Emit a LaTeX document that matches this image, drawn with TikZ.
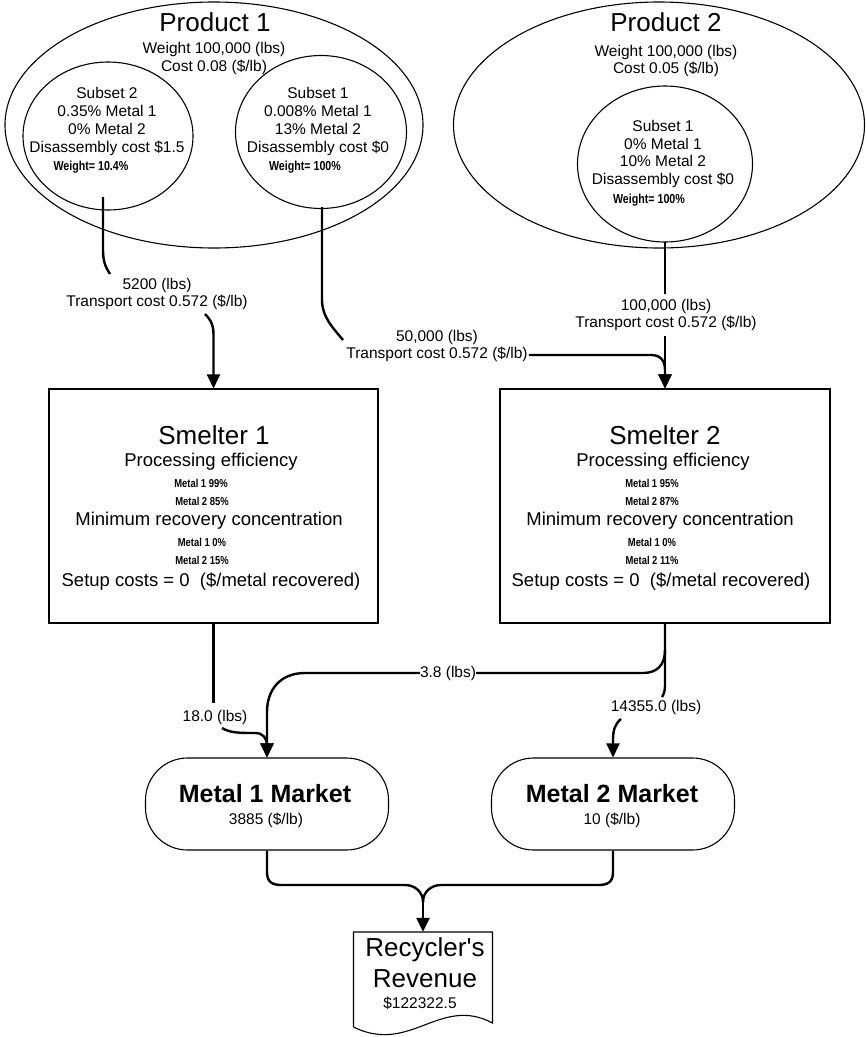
\documentclass[tikz,border=0pt]{standalone}
\usepackage{fontspec}
\setmainfont{Liberation Sans}
\newfontfamily\condfont[FakeStretch=0.82]{Liberation Sans}
\usetikzlibrary{shapes.geometric,arrows.meta}
\begin{document}
\begin{tikzpicture}[x=1pt,y=-1pt,
  oval/.style={ellipse, draw=black, line width=1.1pt, inner sep=0pt},
  boxshape/.style={rectangle, draw=black, line width=1.1pt, inner sep=0pt},
  market/.style={rectangle, draw=black, line width=1.1pt, rounded corners=42pt, inner sep=0pt, minimum width=243pt, minimum height=92pt},
  conn/.style={line width=2.4pt},
  arr/.style={-{Triangle[length=14pt,width=13pt]}},
  txt/.style={font=\fontsize{15.5}{17.8}\selectfont, align=center, inner sep=0pt},
  ttl/.style={font=\fontsize{26}{31}\selectfont, align=center, inner sep=0pt},
  mttl/.style={font=\bfseries\fontsize{25}{30}\selectfont, inner sep=0pt},
  body/.style={font=\fontsize{18.5}{21}\selectfont, inner sep=0pt},
  tinyb/.style={font=\condfont\bfseries\fontsize{11.5}{13}\selectfont, inner sep=0pt},
  wt/.style={font=\condfont\bfseries\fontsize{13}{15}\selectfont, inner sep=0pt},
]
\fill[white] (0,0) rectangle (866,1037);
\useasboundingbox (0,0) rectangle (866,1037);

% Product 1
\node[oval, minimum width=418pt, minimum height=246pt] (p1) at (214,125) {};
\node[oval, minimum width=170pt, minimum height=148pt] (p1s2) at (108,136) {};
\node[oval, minimum width=171pt, minimum height=153pt] (p1s1) at (321,132) {};
\node[ttl] (p1t) at (215,22) {Product 1};
\node[txt] (p1w) at (214,58.5) {Weight 100,000 (lbs)\\Cost 0.08 (\$/lb)};
\node[txt] (p1s2t) at (107,121.5) {Subset 2\\0.35\% Metal 1\\0\% Metal 2\\Disassembly cost \$1.5};
\node[wt] (p1s2w) at (91,167) {Weight= 10.4\%};
\node[txt] (p1s1t) at (318,121.5) {Subset 1\\0.008\% Metal 1\\13\% Metal 2\\Disassembly cost \$0};
\node[wt] (p1s1w) at (305,167) {Weight= 100\%};

% Product 2
\node[oval, minimum width=411pt, minimum height=246pt] (p2) at (659,125) {};
\node[oval, minimum width=175pt, minimum height=156pt] (p2s1) at (665,164) {};
\node[ttl] (p2t) at (666,22) {Product 2};
\node[txt] (p2w) at (666,61) {Weight 100,000 (lbs)\\Cost 0.05 (\$/lb)};
\node[txt] (p2s1t) at (663,154) {Subset 1\\0\% Metal 1\\10\% Metal 2\\Disassembly cost \$0};
\node[wt] (p2s1w) at (649,200) {Weight= 100\%};

% Smelters
\node[boxshape, minimum width=329pt, minimum height=234pt] (sm1) at (213.5,506) {};
\node[ttl] (sm1t) at (214,435) {Smelter 1};
\node[body] (sm1p) at (211,462) {Processing efficiency};
\node[tinyb] (sm1a) at (201,483) {Metal 1 99\%};
\node[tinyb] (sm1b) at (202,501) {Metal 2 85\%};
\node[body] (sm1m) at (209,521) {Minimum recovery concentration};
\node[tinyb] (sm1c) at (202,542) {Metal 1 0\%};
\node[tinyb] (sm1d) at (202,560) {Metal 2 15\%};
\node[body] (sm1s) at (211,582) {Setup costs = 0\ \ (\$/metal recovered)};

\node[boxshape, minimum width=330pt, minimum height=234pt] (sm2) at (665,506) {};
\node[ttl] (sm2t) at (665,435) {Smelter 2};
\node[body] (sm2p) at (663,462) {Processing efficiency};
\node[tinyb] (sm2a) at (652,483) {Metal 1 95\%};
\node[tinyb] (sm2b) at (652,501) {Metal 2 87\%};
\node[body] (sm2m) at (660,521) {Minimum recovery concentration};
\node[tinyb] (sm2c) at (652,542) {Metal 1 0\%};
\node[tinyb] (sm2d) at (652,560) {Metal 2 11\%};
\node[body] (sm2s) at (661,582) {Setup costs = 0\ \ (\$/metal recovered)};

% Markets
\node[market] (m1) at (267,804) {};
\node[mttl] (m1t) at (265,794) {Metal 1 Market};
\node[txt] (m1p) at (266,820) {3885 (\$/lb)};
\node[market] (m2) at (613,804) {};
\node[mttl] (m2t) at (612,794) {Metal 2 Market};
\node[txt] (m2p) at (612,820) {10 (\$/lb)};

% Revenue document
\node[rectangle, inner sep=0pt, minimum width=139pt, minimum height=96pt] (rev) at (423,980) {};
\draw[line width=1.1pt] (353.5,1027) -- (353.5,932) -- (492.5,932) -- (492.5,1023)
  .. controls (440,995) and (410,1055) .. (353.5,1027);
\node[ttl] (revt) at (425,962.5) {Recycler\textquotesingle s\\Revenue};
\node[txt] (revv) at (420,1003) {\$122322.5};

% Flow labels
\node[txt] (l1) at (157,294) {5200 (lbs)\\Transport cost 0.572 (\$/lb)};
\node[txt] (l2) at (437,346) {50,000 (lbs)\\Transport cost 0.572 (\$/lb)};
\node[txt] (l3) at (666,315) {100,000 (lbs)\\Transport cost 0.572 (\$/lb)};
\node[txt] (l4) at (215,717) {18.0 (lbs)};
\node[txt] (l5) at (448,673) {3.8 (lbs)};
\node[txt] (l6) at (656,707) {14355.0 (lbs)};

% named connector ends
\coordinate (a1) at (103,197);
\coordinate (a2) at (110,274);
\coordinate (a3) at (205,314);
\coordinate (b1) at (322,207);
\coordinate (b2) at (343,340);
\coordinate (b3) at (l2.east |- 0,355);
\coordinate (c1) at (665,242);
\coordinate (c2) at (665,294);
\coordinate (c3) at (665,336);
\coordinate (d1) at (213.5,703);
\coordinate (d2) at (222,728);
\coordinate (e1) at (665,650);
\coordinate (f1) at (662,697);
\coordinate (f2) at (621,719);
\coordinate (g1) at (423,902);

% Connectors
\draw[conn] (a1) -- (103,250) .. controls (103,262) and (106,268) .. (a2);
\draw[conn,arr] (a3) .. controls (209,318) and (213.5,323) .. (213.5,334) -- (sm1.north);

\draw[conn] (b1) -- (322,300) .. controls (322,318) and (335,330) .. (b2);
\draw[conn,arr] ([xshift=1pt]b3) -- (651,355) .. controls (660,355) and (665,360) .. (665,370) -- (sm2.north);

\draw[conn] (c1) -- (c2);
\draw[conn,arr] (c3) -- (sm2.north);

\draw[conn] (sm1.south) -- (d1);
\draw[conn,arr] (d2) .. controls (230,733) and (240,733) .. (255,733) .. controls (263,733) and (267,738) .. (267,746) -- (m1.north);

\draw[conn] (e1) .. controls (665,665) and (657,673) .. (643,673) -- (l5.east);
\draw[conn,arr] (l5.west) -- (305,673) .. controls (280,673) and (267,690) .. (267,712) -- (m1.north);

\draw[conn] (sm2.south) -- (665,686) .. controls (665,690) and (664,694) .. (f1);
\draw[conn,arr] (f2) .. controls (615,724) and (613,730) .. (613,740) -- (m2.north);

\draw[conn] (m1.south) -- (267,872) .. controls (267,882) and (272,885) .. (282,885) -- (405,885) .. controls (415,885) and (423,892) .. (g1);
\draw[conn] (m2.south) -- (613,872) .. controls (613,882) and (608,885) .. (598,885) -- (441,885) .. controls (431,885) and (423,892) .. (g1);
\draw[conn,arr] (g1) -- (rev.north);
\end{tikzpicture}
\end{document}
